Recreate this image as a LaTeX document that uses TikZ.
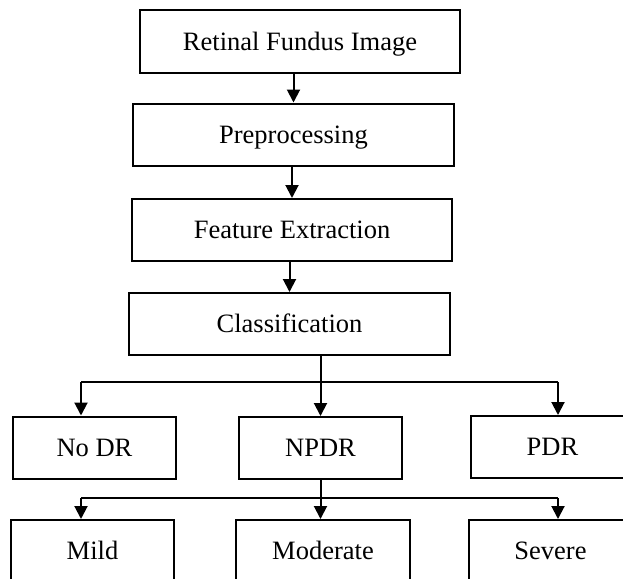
\documentclass[tikz,border=0pt]{standalone}
\usepackage{fontspec}
\setmainfont{Liberation Serif}
\usetikzlibrary{arrows.meta}
\begin{document}
\begin{tikzpicture}
[x=1pt,y=-1pt,
 boxdecorate/.style={shape=rectangle,draw,line width=2pt,inner sep=0pt,%
  minimum height=62pt,text height=17.5pt,text depth=0pt,%
  font=\fontsize{26.5}{30}\selectfont},%
 linedecorate/.style={-,line width=2pt},%
 arrowdecorate/.style={line width=2pt,-{Triangle[width=13pt,length=13pt]}}]
\useasboundingbox (0,0) rectangle (623,578);
%% nodes or boxes
\foreach \nodename/\x/\y/\w/\txt in {retina/300/41.5/320/Retinal Fundus Image,
  prep/293.5/134.5/321/Preprocessing, feat/292/230/320/Feature Extraction,
  classif/289.5/324/321/Classification, nodr/94.5/447.5/163/No DR,
  npdr/320.5/448/163/NPDR, pdr/552.5/447/163/PDR, mild/92.5/551/163/Mild,
  moderate/323/551/174/Moderate, severe/550.5/551/163/Severe} {
  \node (\nodename) at (\x,\y) [boxdecorate,minimum width=\w pt] {\txt};
}
%% branch points
\coordinate (busAleft) at (81,382);
\coordinate (busAright) at (558,382);
\coordinate (busBleft) at (81,498);
\coordinate (busBright) at (558,498);
%% edges or arrows
\path
\foreach \startnode/\endnode in {retina/prep, prep/feat, feat/classif, classif/npdr} {
  (\startnode.south -| \endnode.north) edge[arrowdecorate] (\endnode.north)
}
\foreach \startnode/\endnode in {busAleft/nodr, busAright/pdr, busBleft/mild, busBright/severe} {
  (\startnode) edge[arrowdecorate] (\startnode |- \endnode.north)
}
(npdr.south) edge[arrowdecorate] (npdr.south |- moderate.north)
(busAleft) edge[linedecorate] (busAright)
(busBleft) edge[linedecorate] (busBright);
\end{tikzpicture}
\end{document}
